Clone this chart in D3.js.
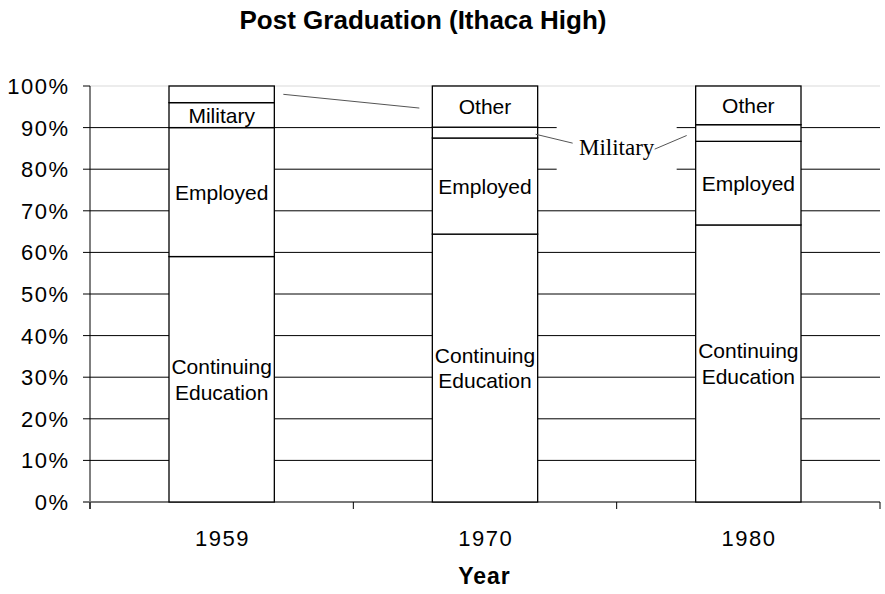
<!DOCTYPE html>
<html>
<head>
<meta charset="utf-8">
<script src="https://cdn.jsdelivr.net/npm/d3@7"></script>
<style>
  body { margin: 0; background: #fff; }
  text { font-family: "Liberation Sans", Arial, sans-serif; fill: #000; }
</style>
</head>
<body>
<svg id="chart" width="885" height="594"></svg>
<script>
// chart data (percent of graduates)
const years = ['1959', '1970', '1980'];
const categories = ['Continuing Education', 'Employed', 'Military', 'Other'];
const contEd = [59.0, 64.4, 66.6];
const employed = [31.0, 23.1, 20.1];
const military = [6.0, 2.6, 4.0];
const other = [4.0, 9.9, 9.3];
const yTicks = [0, 10, 20, 30, 40, 50, 60, 70, 80, 90, 100];
// which segments carry their name inside the bar
const inlineLabels = [
    ['Continuing Education', 'Employed', 'Military'],
    ['Continuing Education', 'Employed', 'Other'],
    ['Continuing Education', 'Employed', 'Other']
];

const rows = years.map((yr, i) => ({
    year: yr,
    'Continuing Education': contEd[i],
    'Employed': employed[i],
    'Military': military[i],
    'Other': other[i]
}));

const svg = d3.select('#chart'),
    x = d3.scaleBand().domain(years).range([90, 880]).padding(0),
    y = d3.scaleLinear().domain([0, 100]).range([502, 86]),
    barW = x.bandwidth() * 0.4,
    barX = d => x(d) + (x.bandwidth() - barW) / 2;

const series = d3.stack().keys(categories)(rows);

// gridlines
svg.append('g')
    .selectAll('line')
    .data(yTicks.filter(t => t > 0 && t < 100))
    .enter().append('line')
    .attr('x1', 83).attr('x2', 880)
    .attr('y1', d => y(d)).attr('y2', d => y(d))
    .attr('stroke', '#000').attr('stroke-width', 1);

// faint top line + tick
svg.append('line')
    .attr('x1', 90).attr('x2', 880).attr('y1', y(100)).attr('y2', y(100))
    .attr('stroke', '#ececec').attr('stroke-width', 2);
svg.append('line')
    .attr('x1', 83).attr('x2', 90).attr('y1', y(100)).attr('y2', y(100))
    .attr('stroke', '#000');

// callout for military (1970 / 1980)
const cx = x('1980'),
    cy = y(85.3);
svg.append('rect')
    .attr('x', cx - 60).attr('y', cy - 27)
    .attr('width', 120).attr('height', 54)
    .attr('fill', '#fff');

// axes lines
svg.append('line')
    .attr('x1', 90).attr('x2', 90).attr('y1', y(100)).attr('y2', y(0) + 7)
    .attr('stroke', '#000');
svg.append('line')
    .attr('x1', 83).attr('x2', 880).attr('y1', y(0)).attr('y2', y(0))
    .attr('stroke', '#777').attr('stroke-width', 2);

// x ticks at band edges
svg.append('g')
    .selectAll('line')
    .data(years.map(d => x(d)).concat([x.range()[1]]))
    .enter().append('line')
    .attr('x1', d => d).attr('x2', d => d)
    .attr('y1', y(0)).attr('y2', y(0) + 7)
    .attr('stroke', '#000');

// bars
svg.append('g')
    .selectAll('g')
    .data(series)
    .enter().append('g')
    .selectAll('rect')
    .data(d => d)
    .enter().append('rect')
    .attr('x', d => barX(d.data.year))
    .attr('y', d => y(d[1]))
    .attr('width', barW)
    .attr('height', d => y(d[0]) - y(d[1]))
    .attr('fill', '#fff')
    .attr('stroke', '#000')
    .attr('stroke-width', 1.3);

// segment labels
series.forEach(s => {
    s.forEach((d, i) => {
        if (inlineLabels[i].indexOf(s.key) < 0) return;
        const words = s.key.split(' '),
            mid = y((d[0] + d[1]) / 2),
            lh = 25.5,
            t = svg.append('text')
                .attr('text-anchor', 'middle')
                .style('font-size', '21px');
        words.forEach((w, k) => {
            t.append('tspan')
                .attr('x', barX(d.data.year) + barW / 2)
                .attr('y', mid + 7.5 - (words.length - 1) * lh / 2 + k * lh)
                .text(w);
        });
    });
});

// leader lines
const leaders = [
    [barX('1959') + barW + 9, y(98), barX('1970') - 13, y(94.7)],
    [barX('1970') + barW - 2, y(88.4), cx - 44, cy - 4],
    [barX('1980') - 9, y(88.1), cx + 38, cy + 2]
];
svg.append('g')
    .selectAll('line')
    .data(leaders)
    .enter().append('line')
    .attr('x1', d => d[0]).attr('y1', d => d[1])
    .attr('x2', d => d[2]).attr('y2', d => d[3])
    .attr('stroke', '#555').attr('stroke-width', 1);

svg.append('text')
    .attr('x', cx).attr('y', cy + 8)
    .attr('text-anchor', 'middle')
    .style('font-family', '"Liberation Serif", "Times New Roman", serif')
    .style('font-size', '23px')
    .text('Military');

// y tick labels
svg.append('g')
    .selectAll('text')
    .data(yTicks)
    .enter().append('text')
    .attr('x', 69.5)
    .attr('y', d => y(d))
    .attr('dy', '0.36em')
    .attr('text-anchor', 'end')
    .style('font-size', '22px')
    .style('letter-spacing', '1.5px')
    .text(d => d + '%');

// year labels
svg.append('g')
    .selectAll('text')
    .data(years)
    .enter().append('text')
    .attr('x', d => x(d) + x.bandwidth() / 2 + 0.75)
    .attr('y', 546)
    .attr('text-anchor', 'middle')
    .style('font-size', '22px')
    .style('letter-spacing', '1.5px')
    .text(d => d);

// titles
svg.append('text')
    .attr('x', 423).attr('y', 29)
    .attr('text-anchor', 'middle')
    .style('font-size', '26px').style('font-weight', 'bold')
    .text('Post Graduation (Ithaca High)');

svg.append('text')
    .attr('x', 484.5).attr('y', 584)
    .attr('text-anchor', 'middle')
    .style('font-size', '23px').style('font-weight', 'bold')
    .style('letter-spacing', '1px')
    .text('Year');
</script>
</body>
</html>
